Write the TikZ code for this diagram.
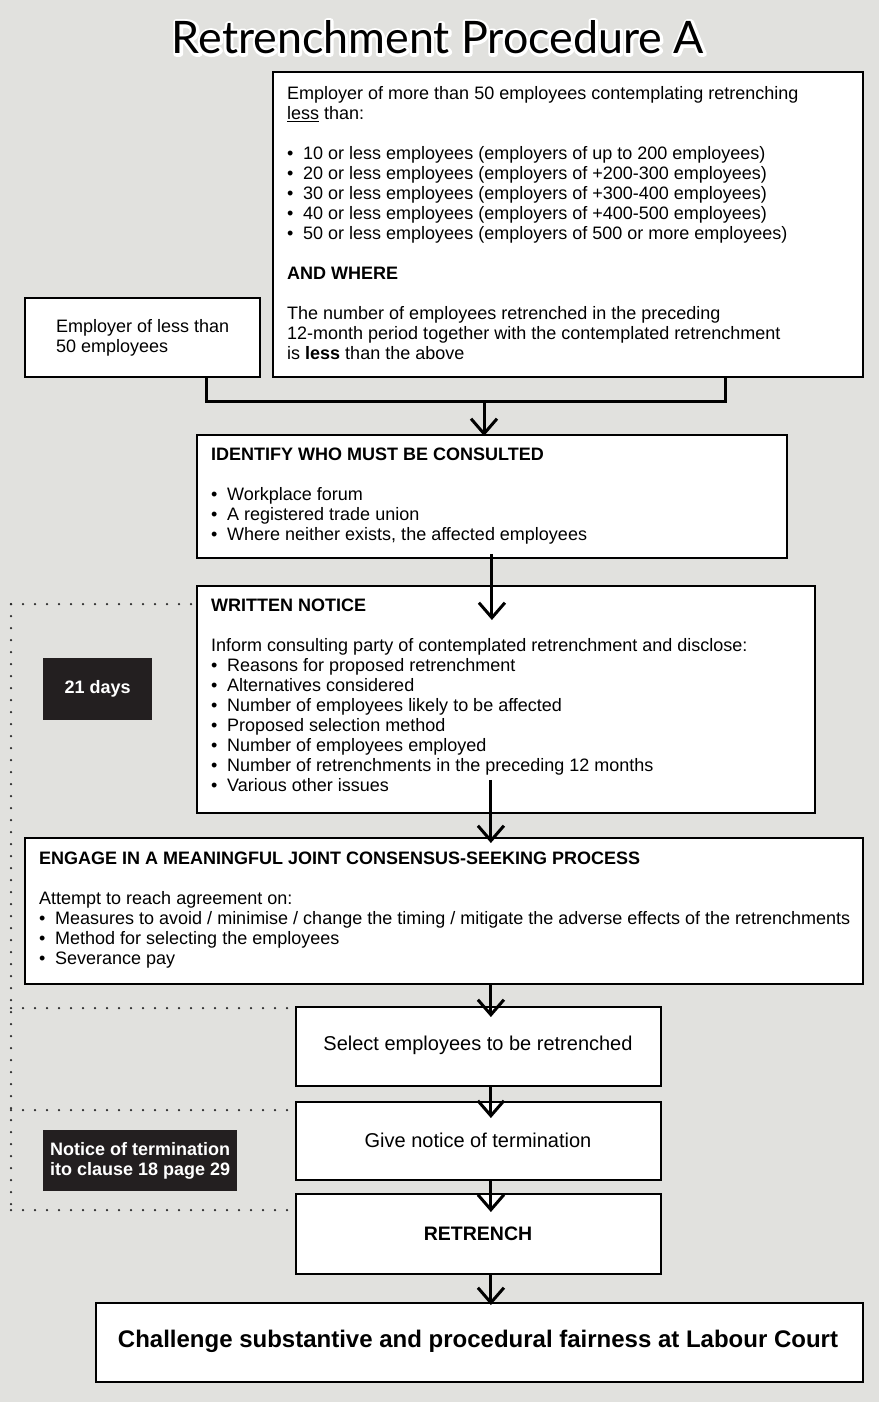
\documentclass[tikz,border=0pt]{standalone}
\usepackage{fontspec}
\setmainfont{Liberation Sans}
\newfontfamily\titlefont{Lato}
\usetikzlibrary{arrows.meta,calc}
\definecolor{bg}{RGB}{225,225,222}
\definecolor{labfill}{RGB}{35,31,32}
\definecolor{dotc}{RGB}{40,40,40}
\newcommand\bt{\fontsize{18}{20}\selectfont}
\newcommand\bl{\makebox[16pt][l]{\textbullet}}
\newcommand\halotext[1]{\special{pdf:literal 1 Tr 1 1 1 RG 5.5 w 1 j}#1\special{pdf:literal 0 Tr}}
\begin{document}
\begin{tikzpicture}[x=1pt,y=-1pt,
  box/.style={draw=black,fill=white,line width=1.8pt,inner sep=0pt,anchor=north west},
  txt/.style={inner sep=0pt,anchor=north west,align=left,font=\bt},
  arr/.style={line width=3pt,-{Straight Barb[length=15pt,width=26pt,line width=3pt]}},
  bus/.style={line width=3pt},
  labbox/.style={fill=labfill,text=white,font=\bt\bfseries,inner sep=0pt,anchor=north west,align=left},
  dots/.style={dotc,line width=2.5pt,line cap=round,dash pattern=on 0pt off 12pt},
  ttl/.style={anchor=base,inner sep=0pt,font=\titlefont\fontsize{44.8}{44.8}\selectfont}]
\fill[bg] (0,0) rectangle (879,1402);
\useasboundingbox (0,0) rectangle (879,1402);

% title with white halo
\node[ttl,text=white] (halo) at (438,54) {\halotext{Retrenchment Procedure A}};
\node[ttl,text=black] (title) at (438,54) {Retrenchment Procedure A};

% boxes
\node[box,minimum width=590pt,minimum height=305pt] (big) at (272,71) {};
\node[box,minimum width=235pt,minimum height=79pt] (small) at (24,297) {};
\node[box,minimum width=590pt,minimum height=123pt] (ident) at (196,434) {};
\node[box,minimum width=618pt,minimum height=227pt] (written) at (196,585) {};
\node[box,minimum width=838pt,minimum height=146pt] (engage) at (24,837) {};
\node[box,minimum width=365pt,minimum height=79pt] (select) at (295,1006) {};
\node[box,minimum width=365pt,minimum height=78pt] (give) at (295,1101) {};
\node[box,minimum width=365pt,minimum height=80pt] (retr) at (295,1193) {};
\node[box,minimum width=767pt,minimum height=79pt] (chal) at (95,1302) {};

% texts
\node[txt] (bigt) at (287,86) {Employer of more than 50 employees contemplating retrenching\\
\underline{less} than:\\[20pt]
\bl 10 or less employees (employers of up to 200 employees)\\
\bl 20 or less employees (employers of +200-300 employees)\\
\bl 30 or less employees (employers of +300-400 employees)\\
\bl 40 or less employees (employers of +400-500 employees)\\
\bl 50 or less employees (employers of 500 or more employees)\\[20pt]
\textbf{AND WHERE}\\[20pt]
The number of employees retrenched in the preceding\\
12-month period together with the contemplated retrenchment\\
is \textbf{less} than the above};

\node[txt] (smallt) at (56,319) {Employer of less than\\50 employees};

\node[txt] (identt) at (211,448) {\textbf{IDENTIFY WHO MUST BE CONSULTED}\\[20pt]
\bl Workplace forum\\
\bl A registered trade union\\
\bl Where neither exists, the affected employees};

\node[txt] (writtent) at (211,599) {\textbf{WRITTEN NOTICE}\\[20pt]
Inform consulting party of contemplated retrenchment and disclose:\\
\bl Reasons for proposed retrenchment\\
\bl Alternatives considered\\
\bl Number of employees likely to be affected\\
\bl Proposed selection method\\
\bl Number of employees employed\\
\bl Number of retrenchments in the preceding 12 months\\
\bl Various other issues};

\node[txt] (engaget) at (39,852) {\textbf{ENGAGE IN A MEANINGFUL JOINT CONSENSUS-SEEKING PROCESS}\\[20pt]
Attempt to reach agreement on:\\
\bl Measures to avoid / minimise / change the timing / mitigate the adverse effects of the retrenchments\\
\bl Method for selecting the employees\\
\bl Severance pay};

\node[font=\fontsize{20}{22}\selectfont,inner sep=0pt] (selectt) at (478,1045) {Select employees to be retrenched};
\node[font=\fontsize{20}{22}\selectfont,inner sep=0pt] (givet) at (478,1140) {Give notice of termination};
\node[font=\fontsize{19.5}{21}\selectfont\bfseries,inner sep=0pt] (retrt) at (478,1234) {RETRENCH};
\node[font=\fontsize{24}{26}\selectfont\bfseries,inner sep=0pt] (chalt) at (478,1341) {Challenge substantive and procedural fairness at Labour Court};

% labels
\node[labbox,minimum width=109pt,minimum height=62pt] (days) at (43,658) {21 days};
\node[labbox,minimum width=194pt,minimum height=61pt] (notice) at (43,1130) {Notice of termination\\ito clause 18 page 29};

% dotted brackets
\coordinate (d1) at (11,604);
\coordinate (d2) at (11,1008);
\coordinate (d3) at (11,1110);
\coordinate (d4) at (11,1210);
\draw[dots] (d1) -- (d4);
\draw[dots] (d1) -- (d1 -| written.west);
\draw[dots] (d2) -- (d2 -| select.west);
\draw[dots] (d3) -- (d3 -| give.west);
\draw[dots] (d4) -- (d4 -| retr.west);

% connectors
\coordinate (busc) at (484,401);
\draw[bus] ($(small.south)+(64.5,0)$) |- (busc) -| ($(big.south)+(158,0)$);
\draw[arr] (busc) -- ($(busc |- ident.north)+(0,2)$);
\draw[arr] ($(ident.south)+(0,-5)$) -- ($(written.north)+(-14,35)$);
\draw[arr] ($(written.south)+(-15,-34)$) -- ($(engage.north)+(47,6)$);
\draw[arr] ($(engage.south)+(47,0)$) -- ($(select.north)+(12.5,11)$);
\draw[arr] ($(select.south)+(12.5,0)$) -- ($(give.north)+(12.5,17)$);
\draw[arr] ($(give.south)+(12.5,0)$) -- ($(retr.north)+(12.5,19)$);
\draw[arr] ($(retr.south)+(12.5,0)$) -- ($(chal.north)+(11.5,3)$);
\end{tikzpicture}
\end{document}
